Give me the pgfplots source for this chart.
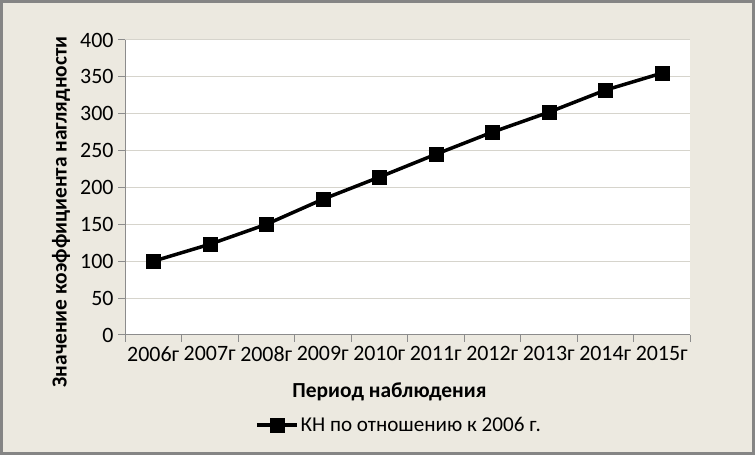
\documentclass[border=0pt]{standalone}
\usepackage{pgfplots}
\pgfplotsset{compat=1.18}
\usepackage{fontspec}
\setmainfont{Carlito}
\definecolor{bg}{HTML}{ECE9E0}
\definecolor{framec}{HTML}{858585}
\definecolor{gridc}{HTML}{D6D4CC}
\definecolor{axl}{HTML}{8C8C8C}
\begin{document}
\begin{tikzpicture}[x=1bp,y=1bp]
\fill[bg] (0,0) rectangle (755,455);
\draw[framec, line width=3bp] (1.5,1.5) rectangle (753.5,453.5);
\begin{axis}[at={(125bp,120bp)}, anchor=south west, scale only axis,
  width=565bp, height=295bp,
  xmin=-0.5, xmax=9.5, ymin=0, ymax=400,
  axis background/.style={fill=white},
  axis x line*=bottom, axis y line*=left,
  axis line style={axl, line width=1bp, -},
  tick align=outside, major tick length=7bp,
  tick style={axl, line width=1bp},
  xtick={-0.5,0.5,...,9.5}, xticklabels={},
  extra x ticks={0,...,9},
  extra x tick labels={2006г,2007г,2008г,2009г,2010г,2011г,2012г,2013г,2014г,2015г},
  extra x tick style={major tick length=0bp},
  ytick={0,50,...,400},
  ymajorgrids, grid style={gridc, line width=1bp},
  /pgf/number format/assume math mode=true,
  ticklabel style={font=\fontsize{22}{26}\selectfont, text=black},
  xticklabel style={yshift=-8bp},
  yticklabel style={xshift=-1bp},
  xlabel={Период наблюдения},
  ylabel={Значение коэффициента наглядности},
  label style={font=\bfseries\fontsize{21.5}{25}\selectfont},
  xlabel style={at={(axis description cs:0.468,-0.193)}, anchor=center},
  ylabel style={at={(axis description cs:-0.113,0.417)}, anchor=center},
  legend style={at={(axis description cs:0.485,-0.305)}, anchor=center, draw=none, fill=none,
    font=\fontsize{21.2}{25}\selectfont, inner sep=0pt},
  legend cell align=left,
  legend image code/.code={\draw[mark repeat=2,mark phase=2] plot coordinates {(0bp,0bp)(20bp,0bp)(40bp,0bp)};},
]
\addplot[black, line width=3.5bp, mark=square*, mark size=7bp, mark options={solid, line width=0.5bp}]
coordinates {(0,100) (1,123) (2,150) (3,184) (4,214) (5,245) (6,275) (7,302) (8,332) (9,355)};
\addlegendentry{КН по отношению к 2006 г.}
\end{axis}
\end{tikzpicture}
\end{document}
